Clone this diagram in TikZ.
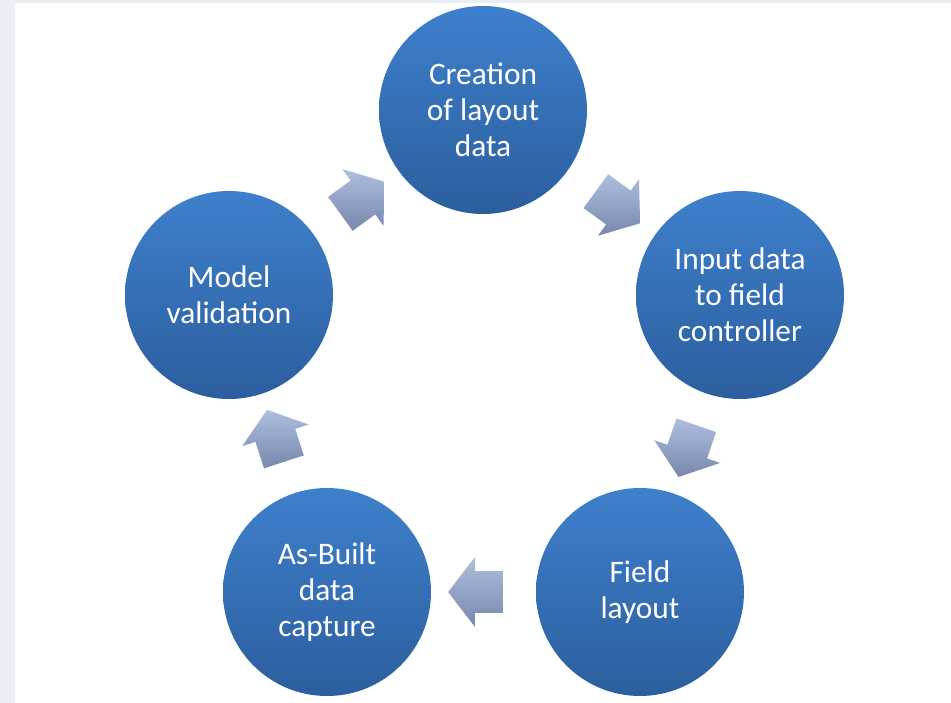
\documentclass[tikz,border=0pt]{standalone}
\usepackage{fontspec}
\setmainfont{Carlito}
\usetikzlibrary{shapes.arrows,calc}
\definecolor{stagetop}{RGB}{62,128,204}
\definecolor{stagebot}{RGB}{44,94,158}
\definecolor{arrowtop}{RGB}{174,190,222}
\definecolor{arrowbot}{RGB}{120,136,174}
\definecolor{pagebg}{RGB}{233,239,245}

\begin{document}
\begin{tikzpicture}[x=0.75pt, y=-0.75pt,
		stage/.style={circle, minimum size=156pt, inner sep=0pt, top color=stagetop, bottom color=stagebot, text=white, align=center, font=\fontsize{23.5}{27}\selectfont},
		cyclearrow/.style={single arrow, minimum height=41pt, inner xsep=0pt, inner ysep=15.5pt, single arrow head extend=10.5pt, single arrow tip angle=105, top color=arrowtop, bottom color=arrowbot}]
	\useasboundingbox (0, 0) rectangle (951, 703);
	% Page:
	\fill[pagebg] (0, 0) rectangle (951, 703);
	\fill[white] (15, 3) rectangle (951, 703);
	% Stages:
	\node[stage] (creation) at (483, 110){Creation\\of layout\\data};
	\node[stage] (input) at (740, 295){Input data\\to field\\controller};
	\node[stage] (field) at (640, 592){Field\\layout};
	\node[stage] (asbuilt) at (327, 592){As-Built\\data\\capture};
	\node[stage] (model) at (229, 295){Model\\validation};
	% Arrows between stages:
	\node[cyclearrow, rotate=-36] (a1) at ($(creation)!0.5!(input)$){};
	\node[cyclearrow, rotate=-109] (a2) at ($(input)!0.5!(field)$){};
	\node[cyclearrow, rotate=180] (a3) at ($(field)!0.5!(asbuilt)$){};
	\node[cyclearrow, rotate=108] (a4) at ($(asbuilt)!0.5!(model)$){};
	\node[cyclearrow, rotate=36] (a5) at ($(model)!0.5!(creation)$){};
\end{tikzpicture}
\end{document}
